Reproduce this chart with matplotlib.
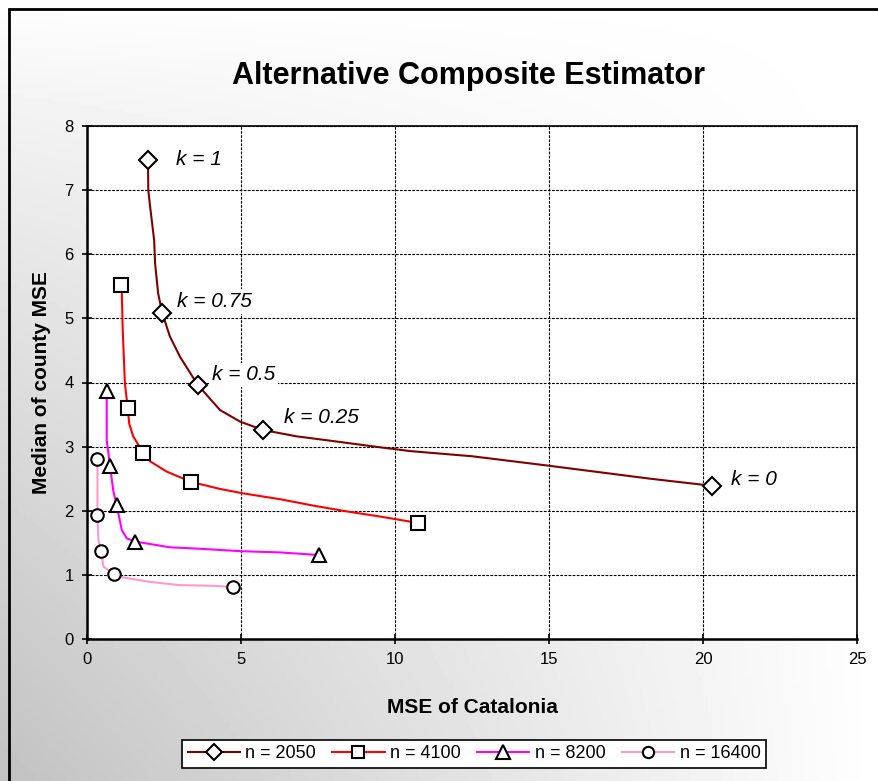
import numpy as np
import matplotlib
matplotlib.use('Agg')
import matplotlib.pyplot as plt
from matplotlib.patches import Rectangle

plt.rcParams['font.family'] = ['Liberation Sans', 'DejaVu Sans']

# curves, markers at the k = 1, 0.75, 0.5, 0.25, 0 points
x_2050 = [1.98, 1.99, 2.05, 2.18, 2.21, 2.31, 2.44, 2.69, 3.02, 3.60, 4.32, 4.97, 5.71,
          6.81, 7.78, 9.51, 10.5, 12.5, 15.03, 18.28, 20.28]
y_2050 = [7.47, 7.00, 6.74, 6.22, 5.86, 5.39, 5.09, 4.72, 4.40, 3.96, 3.57, 3.39, 3.26,
          3.16, 3.10, 2.99, 2.93, 2.85, 2.70, 2.50, 2.39]
k_2050 = [0, 6, 9, 12, 20]

x_4100 = [1.10, 1.13, 1.16, 1.23, 1.32, 1.37, 1.50, 1.83, 2.05, 2.59, 3.38, 4.32, 5.08,
          6.27, 7.35, 8.43, 9.51, 10.75]
y_4100 = [5.52, 5.39, 4.82, 3.99, 3.61, 3.36, 3.16, 2.90, 2.77, 2.61, 2.45, 2.34, 2.27,
          2.18, 2.08, 1.99, 1.91, 1.81]
k_4100 = [0, 4, 7, 10, 17]

x_8200 = [0.64, 0.64, 0.75, 0.85, 0.96, 1.13, 1.29, 1.56, 1.94, 2.69, 3.56, 4.97, 6.27, 7.53]
y_8200 = [3.87, 3.10, 2.70, 2.32, 2.09, 1.70, 1.57, 1.52, 1.49, 1.43, 1.41, 1.37, 1.35, 1.31]
k_8200 = [0, 2, 4, 7, 13]

x_16400 = [0.34, 0.34, 0.34, 0.37, 0.46, 0.53, 0.88, 1.18, 2.05, 3.02, 4.10, 4.75]
y_16400 = [2.81, 2.32, 1.93, 1.54, 1.38, 1.13, 1.01, 0.96, 0.89, 0.84, 0.83, 0.81]
k_16400 = [0, 2, 4, 6, 11]

k_labels = ['k = 1', 'k = 0.75', 'k = 0.5', 'k = 0.25', 'k = 0']
k_label_x = [2.89, 2.92, 4.06, 6.40, 20.9]
k_label_y = [7.47, 5.26, 4.12, 3.45, 2.48]

W, H = 879, 781
fig = plt.figure(figsize=(W / 100, H / 100), dpi=100)

# grey-to-white background like the Excel chart area
bg = fig.add_axes([0, 0, 1, 1], zorder=-10)
gx, gy = np.meshgrid(np.linspace(0, 1, 200), np.linspace(1, 0, 200))
shade = 1 - 0.24 * (1 - gx) * (1 - gy) ** 0.8
bg.imshow(shade, cmap='gray', vmin=0, vmax=1, extent=[0, 1, 0, 1], aspect='auto')
bg.set_axis_off()
bg.add_patch(Rectangle((9 / W, -0.1), 1.2, 1.1 - 9 / H, fill=False, ec='black', lw=2,
                       transform=bg.transAxes))

ax = fig.add_axes([87 / W, 1 - 639 / H, (857 - 87) / W, (639 - 126) / H])
ax.set_facecolor('white')

series = [
    (x_2050, y_2050, k_2050, '#800000', 'D', 9.5, 'n = 2050'),
    (x_4100, y_4100, k_4100, '#ff0000', 's', 10, 'n = 4100'),
    (x_8200, y_8200, k_8200, '#ff00ff', '^', 10.5, 'n = 8200'),
    (x_16400, y_16400, k_16400, '#ff99cc', 'o', 9, 'n = 16400'),
]
for xs, ys, ks, col, mk, ms, lab in series:
    ax.plot(xs, ys, color=col, lw=1.5, marker=mk, markevery=ks, ms=ms,
            mfc='white', mec='black', mew=1.5, label=lab, zorder=3)

for t, tx, ty in zip(k_labels, k_label_x, k_label_y):
    ax.text(tx, ty, t, fontsize=15, style='italic', va='center', ha='left', zorder=2,
            bbox=dict(fc='white', ec='none', pad=2))

ax.set_xlim(0, 25)
ax.set_ylim(0, 8)
ax.set_xticks(np.arange(0, 26, 5))
ax.set_yticks(np.arange(0, 9, 1))
ax.grid(True, color='black', linestyle=(0, (2.5, 1.2)), lw=0.8)
ax.set_axisbelow(True)
for s in ax.spines.values():
    s.set_color('black')
    s.set_linewidth(1.2)
ax.spines['left'].set_linewidth(1.8)
ax.spines['bottom'].set_linewidth(1.8)
ax.tick_params(direction='inout', length=7, width=1.2, labelsize=12, pad=6)

ax.set_xlabel('MSE of Catalonia', fontsize=15, fontweight='bold', labelpad=22)
ax.set_ylabel('Median of county MSE', fontsize=15, fontweight='bold', labelpad=10)
fig.text(469 / W, 1 - 76 / H, 'Alternative Composite Estimator', fontsize=22,
         fontweight='bold', ha='center', va='center')

leg = fig.legend(loc='center', bbox_to_anchor=(474 / W, 1 - 754 / H), ncol=4,
                 fontsize=13, frameon=True, fancybox=False, edgecolor='black',
                 handlelength=2.9, handletextpad=0.3, columnspacing=0.9,
                 borderpad=0.3, markerscale=0.9)
leg.get_frame().set_linewidth(1.2)
leg.get_frame().set_facecolor('white')
leg.get_frame().set_alpha(1)

fig.savefig('out.png', dpi=100)
